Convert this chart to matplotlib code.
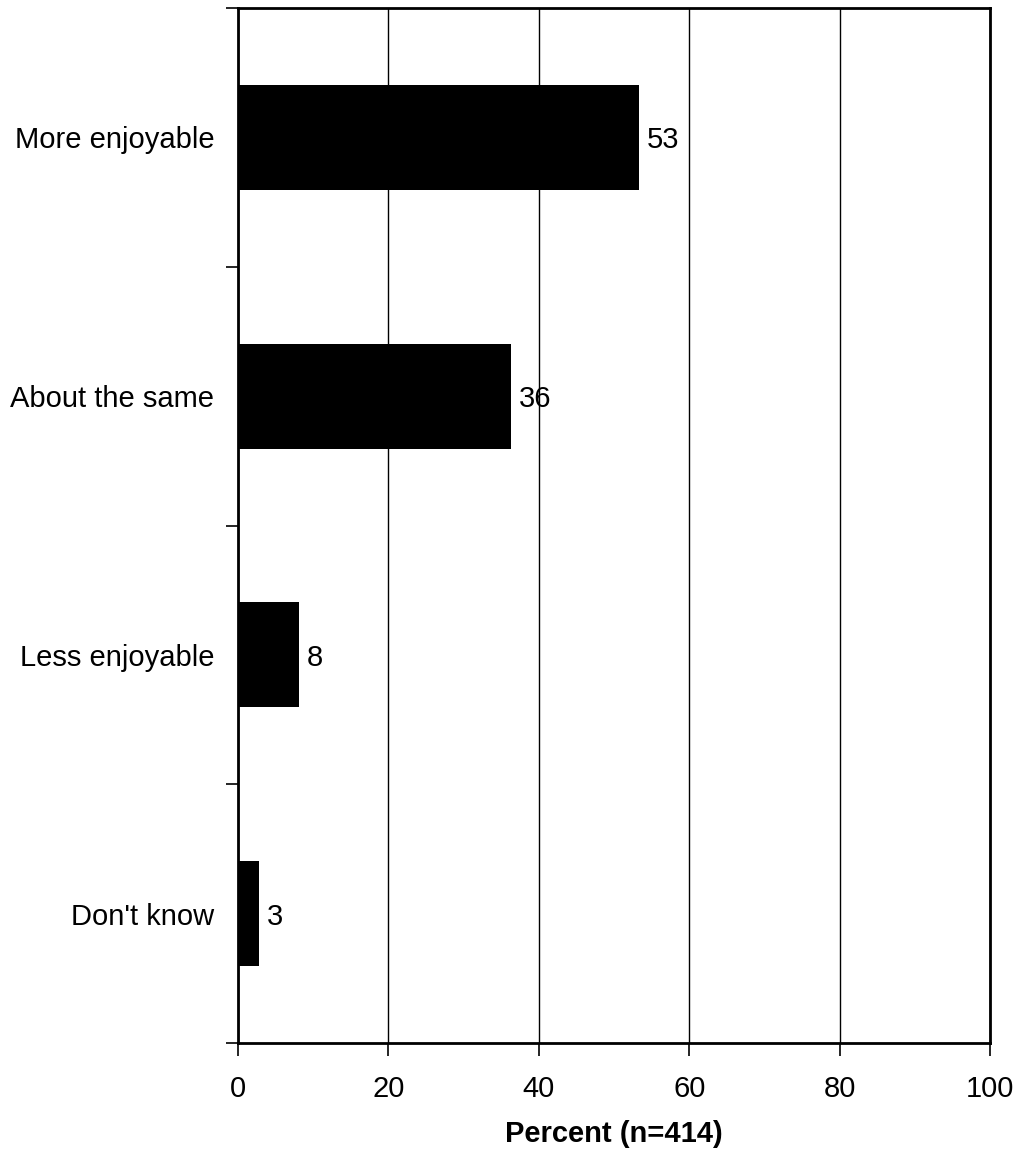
import matplotlib.pyplot as plt
import numpy as np

plt.rcParams['font.family'] = ['Liberation Sans', 'DejaVu Sans']

categories = ['More enjoyable', 'About the same', 'Less enjoyable', "Don't know"]
values = [53, 36, 8, 3]
bar_ends = [53.3, 36.3, 8.1, 2.8]
xticks = [0, 20, 40, 60, 80, 100]

fig = plt.figure(figsize=(10.19, 11.54), dpi=100)
ax = fig.add_axes([238 / 1019, 1 - 1043 / 1154, (990 - 238) / 1019, (1043 - 8) / 1154])

pos = np.arange(len(categories))
ax.barh(pos, bar_ends, height=0.405, color='black', zorder=3)
for p, v, e in zip(pos, values, bar_ends):
    ax.text(e + 1.0, p, str(v), va='center_baseline', ha='left', fontsize=21, zorder=4)

ax.set_xlim(0, 100)
ax.set_ylim(len(categories) - 0.5, -0.5)
ax.set_xticks(xticks)
ax.set_xticklabels([str(t) for t in xticks], fontsize=21)
ax.tick_params(axis='x', direction='out', length=9, width=1.2, pad=14)

ax.set_yticks(np.arange(len(categories) + 1) - 0.5)
ax.set_yticklabels([])
ax.tick_params(axis='y', which='major', direction='out', length=9, width=1.2)
ax.set_yticks(pos, minor=True)
ax.set_yticklabels(categories, minor=True, fontsize=21)
ax.tick_params(axis='y', which='minor', length=0, pad=17)

ax.xaxis.grid(True, color='black', linewidth=1.0, zorder=0)
ax.set_axisbelow(True)
for s in ax.spines.values():
    s.set_linewidth(2)
    s.set_color('black')

ax.set_xlabel('Percent (n=414)', fontsize=21, fontweight='bold', labelpad=12)

fig.savefig('out.png', dpi=100)
